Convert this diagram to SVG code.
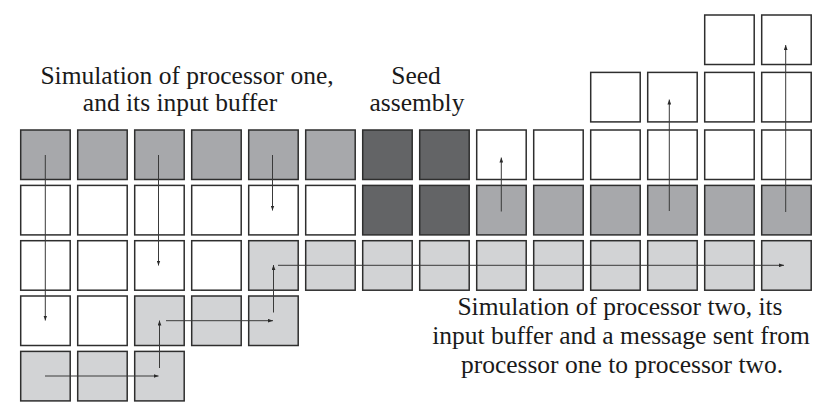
<svg xmlns="http://www.w3.org/2000/svg" width="830" height="415" viewBox="0 0 830 415">
<style>
  .sq { stroke: #2e2e2e; stroke-width: 1.5; }
  .w { fill: #ffffff; }
  .m { fill: #a7a8ab; }
  .d { fill: #636466; }
  .l { fill: #d2d3d5; }
  .arr { fill: none; stroke: #3a3a3a; stroke-width: 1; marker-end: url(#ah); }
  .lbl { font-family: 'Liberation Serif', 'Times New Roman', Times, serif; font-size: 25.5px; fill: #1a1a1a; text-anchor: middle; }
</style>
<defs>
  <marker id="ah" viewBox="0 0 8 6" refX="8" refY="3" markerWidth="5" markerHeight="4" markerUnits="userSpaceOnUse" orient="auto">
    <path d="M0,0 L8,3 L0,6 z" fill="#2a2a2a"/>
  </marker>
</defs>
<rect x="0" y="0" width="830" height="415" fill="#ffffff"/>

<g id="labels" font-family="'Liberation Serif', serif">
  <text class="lbl" x="187" y="84">Simulation of processor one,</text>
  <text class="lbl" x="180" y="111">and its input buffer</text>
  <text class="lbl" x="416" y="84">Seed</text>
  <text class="lbl" x="417" y="111">assembly</text>
  <text class="lbl" x="620" y="315">Simulation of processor two, its</text>
  <text class="lbl" x="621" y="344">input buffer and a message sent from</text>
  <text class="lbl" x="622" y="373">processor one to processor two.</text>
</g>

<g id="nodes">
  <g id="r0c12"><rect class="sq w" x="704.7" y="15" width="49.5" height="49.5"/></g>
  <g id="r0c13"><rect class="sq w" x="761.7" y="15" width="49.5" height="49.5"/></g>
  <g id="r1c10"><rect class="sq w" x="590.7" y="72.4" width="49.5" height="49.5"/></g>
  <g id="r1c11"><rect class="sq w" x="647.7" y="72.4" width="49.5" height="49.5"/></g>
  <g id="r1c12"><rect class="sq w" x="704.7" y="72.4" width="49.5" height="49.5"/></g>
  <g id="r1c13"><rect class="sq w" x="761.7" y="72.4" width="49.5" height="49.5"/></g>
  <g id="r2c0"><rect class="sq m" x="20.7" y="130" width="49.5" height="49.5"/></g>
  <g id="r2c1"><rect class="sq m" x="77.7" y="130" width="49.5" height="49.5"/></g>
  <g id="r2c2"><rect class="sq m" x="134.7" y="130" width="49.5" height="49.5"/></g>
  <g id="r2c3"><rect class="sq m" x="191.7" y="130" width="49.5" height="49.5"/></g>
  <g id="r2c4"><rect class="sq m" x="248.7" y="130" width="49.5" height="49.5"/></g>
  <g id="r2c5"><rect class="sq m" x="305.7" y="130" width="49.5" height="49.5"/></g>
  <g id="r2c6"><rect class="sq d" x="362.7" y="130" width="49.5" height="49.5"/></g>
  <g id="r2c7"><rect class="sq d" x="419.7" y="130" width="49.5" height="49.5"/></g>
  <g id="r2c8"><rect class="sq w" x="476.7" y="130" width="49.5" height="49.5"/></g>
  <g id="r2c9"><rect class="sq w" x="533.7" y="130" width="49.5" height="49.5"/></g>
  <g id="r2c10"><rect class="sq w" x="590.7" y="130" width="49.5" height="49.5"/></g>
  <g id="r2c11"><rect class="sq w" x="647.7" y="130" width="49.5" height="49.5"/></g>
  <g id="r2c12"><rect class="sq w" x="704.7" y="130" width="49.5" height="49.5"/></g>
  <g id="r2c13"><rect class="sq w" x="761.7" y="130" width="49.5" height="49.5"/></g>
  <g id="r3c0"><rect class="sq w" x="20.7" y="185.4" width="49.5" height="49.5"/></g>
  <g id="r3c1"><rect class="sq w" x="77.7" y="185.4" width="49.5" height="49.5"/></g>
  <g id="r3c2"><rect class="sq w" x="134.7" y="185.4" width="49.5" height="49.5"/></g>
  <g id="r3c3"><rect class="sq w" x="191.7" y="185.4" width="49.5" height="49.5"/></g>
  <g id="r3c4"><rect class="sq w" x="248.7" y="185.4" width="49.5" height="49.5"/></g>
  <g id="r3c5"><rect class="sq w" x="305.7" y="185.4" width="49.5" height="49.5"/></g>
  <g id="r3c6"><rect class="sq d" x="362.7" y="185.4" width="49.5" height="49.5"/></g>
  <g id="r3c7"><rect class="sq d" x="419.7" y="185.4" width="49.5" height="49.5"/></g>
  <g id="r3c8"><rect class="sq m" x="476.7" y="185.4" width="49.5" height="49.5"/></g>
  <g id="r3c9"><rect class="sq m" x="533.7" y="185.4" width="49.5" height="49.5"/></g>
  <g id="r3c10"><rect class="sq m" x="590.7" y="185.4" width="49.5" height="49.5"/></g>
  <g id="r3c11"><rect class="sq m" x="647.7" y="185.4" width="49.5" height="49.5"/></g>
  <g id="r3c12"><rect class="sq m" x="704.7" y="185.4" width="49.5" height="49.5"/></g>
  <g id="r3c13"><rect class="sq m" x="761.7" y="185.4" width="49.5" height="49.5"/></g>
  <g id="r4c0"><rect class="sq w" x="20.7" y="240.7" width="49.5" height="49.5"/></g>
  <g id="r4c1"><rect class="sq w" x="77.7" y="240.7" width="49.5" height="49.5"/></g>
  <g id="r4c2"><rect class="sq w" x="134.7" y="240.7" width="49.5" height="49.5"/></g>
  <g id="r4c3"><rect class="sq w" x="191.7" y="240.7" width="49.5" height="49.5"/></g>
  <g id="r4c4"><rect class="sq l" x="248.7" y="240.7" width="49.5" height="49.5"/></g>
  <g id="r4c5"><rect class="sq l" x="305.7" y="240.7" width="49.5" height="49.5"/></g>
  <g id="r4c6"><rect class="sq l" x="362.7" y="240.7" width="49.5" height="49.5"/></g>
  <g id="r4c7"><rect class="sq l" x="419.7" y="240.7" width="49.5" height="49.5"/></g>
  <g id="r4c8"><rect class="sq l" x="476.7" y="240.7" width="49.5" height="49.5"/></g>
  <g id="r4c9"><rect class="sq l" x="533.7" y="240.7" width="49.5" height="49.5"/></g>
  <g id="r4c10"><rect class="sq l" x="590.7" y="240.7" width="49.5" height="49.5"/></g>
  <g id="r4c11"><rect class="sq l" x="647.7" y="240.7" width="49.5" height="49.5"/></g>
  <g id="r4c12"><rect class="sq l" x="704.7" y="240.7" width="49.5" height="49.5"/></g>
  <g id="r4c13"><rect class="sq l" x="761.7" y="240.7" width="49.5" height="49.5"/></g>
  <g id="r5c0"><rect class="sq w" x="20.7" y="296" width="49.5" height="49.5"/></g>
  <g id="r5c1"><rect class="sq w" x="77.7" y="296" width="49.5" height="49.5"/></g>
  <g id="r5c2"><rect class="sq l" x="134.7" y="296" width="49.5" height="49.5"/></g>
  <g id="r5c3"><rect class="sq l" x="191.7" y="296" width="49.5" height="49.5"/></g>
  <g id="r5c4"><rect class="sq l" x="248.7" y="296" width="49.5" height="49.5"/></g>
  <g id="r6c0"><rect class="sq l" x="20.7" y="351.4" width="49.5" height="49.5"/></g>
  <g id="r6c1"><rect class="sq l" x="77.7" y="351.4" width="49.5" height="49.5"/></g>
  <g id="r6c2"><rect class="sq l" x="134.7" y="351.4" width="49.5" height="49.5"/></g>
</g>

<g id="connectors">
  <path class="arr" d="M45.3,155 V320.5"/>
  <path class="arr" d="M158.5,155 V265.5"/>
  <path class="arr" d="M272.5,155 V210.5"/>
  <path class="arr" d="M45,376 H158.5"/>
  <path class="arr" d="M159.5,368 V320.5"/>
  <path class="arr" d="M166,320.7 H273"/>
  <path class="arr" d="M273.5,312.5 V265"/>
  <path class="arr" d="M278,265.3 H784"/>
  <path class="arr" d="M501.3,211.5 V157.5"/>
  <path class="arr" d="M669.3,211 V99.5"/>
  <path class="arr" d="M785.7,212 V45"/>
</g>
</svg>
